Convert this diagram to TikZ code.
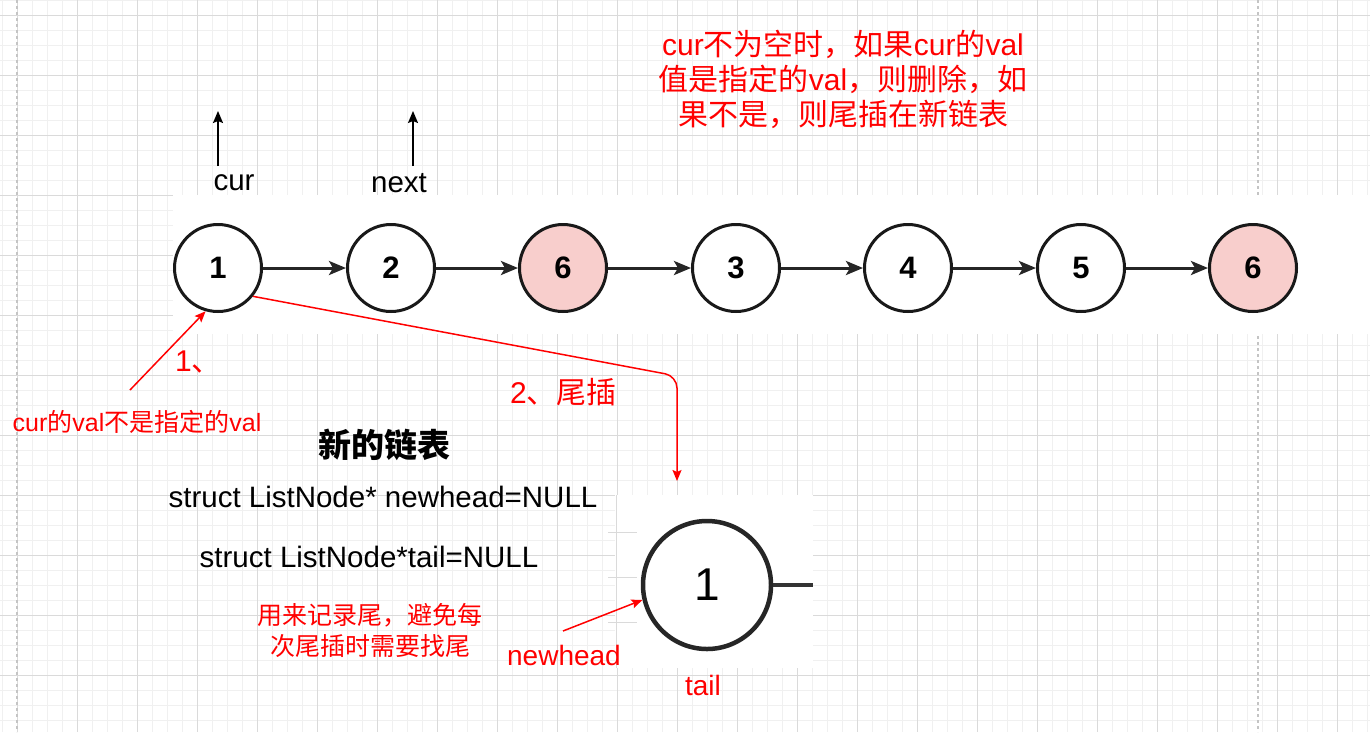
\documentclass[tikz,border=0pt]{standalone}
\usepackage{fontspec}
\setmainfont{Liberation Sans}
\newfontfamily\cjk{Noto Sans CJK SC}
\usetikzlibrary{arrows.meta,calc}
\newcommand\zh[1]{{\cjk #1}}
\definecolor{gmin}{HTML}{F0F0F0}
\definecolor{gmaj}{HTML}{DADADA}
\definecolor{gdash}{HTML}{C4C4C4}
\definecolor{pinkf}{HTML}{F8CECC}
\definecolor{redt}{HTML}{FF0000}
\begin{document}
\begin{tikzpicture}[x=1pt,y=-1pt,
  lnode/.style={circle,draw=black!90,line width=3pt,minimum size=87pt,inner sep=0pt,
    font=\fontsize{31}{31}\selectfont\bfseries,fill=white},
  hl/.style={lnode,fill=pinkf},
  link/.style={black!85,line width=3pt,-{Stealth[length=17pt,width=14pt,inset=4pt]}},
  ptr/.style={line width=1.5pt,-{Stealth[length=12pt,width=10pt,inset=2pt]}},
  redarrow/.style={draw=redt,line width=1.5pt,-{Stealth[length=11pt,width=9pt,inset=2pt]}},
  redtext/.style={text=redt,inner sep=0pt},
  blk/.style={inner sep=0pt,font=\fontsize{29.5}{35}\selectfont}
]
\useasboundingbox (0,0) rectangle (1370,732);
\fill[white] (0,0) rectangle (1370,732);
% grid
\begin{scope}
\clip (0,0) rectangle (1370,732);
\foreach \x in {2,17,...,1367} \draw[gmin,line width=1pt] (\x,0) -- (\x,732);
\foreach \y in {0,15,...,730} \draw[gmin,line width=1pt] (0,\y) -- (1370,\y);
\foreach \x in {17,77,...,1367} \draw[gmaj,line width=1pt] (\x,0) -- (\x,732);
\foreach \y in {15,75,...,730} \draw[gmaj,line width=1pt] (0,\y) -- (1370,\y);
\draw[gdash,line width=1.2pt,dash pattern=on 3pt off 3pt] (17,0) -- (17,732);
\draw[gdash,line width=1.2pt,dash pattern=on 3pt off 3pt] (1258,0) -- (1258,732);
\end{scope}
% pasted image areas
\fill[white] (173,195) rectangle (1370,334);
\fill[white] (615,495) rectangle (813,668);
\draw[gmaj,line width=1pt] (616,495) -- (616,668);
\foreach \y in {532,577,622} \draw[gmaj,line width=1pt] (608,\y) -- (637,\y);

% linked list
\node[lnode] (n1) at (218,268) {1};
\node[lnode] (n2) at (391,268) {2};
\node[hl]    (n3) at (563,268) {6};
\node[lnode] (n4) at (736,268) {3};
\node[lnode] (n5) at (908,268) {4};
\node[lnode] (n6) at (1081,268) {5};
\node[hl]    (n7) at (1253,268) {6};
\foreach \a/\b in {n1/n2,n2/n3,n3/n4,n4/n5,n5/n6,n6/n7}
  \draw[link] (\a) -- (\b);

% pointers
\node[blk] (cur) at (234,183) {cur};
\node[blk] (next) at (399,183) {next};
\coordinate (curb) at (218,166);
\coordinate (curt) at (218,111);
\coordinate (nextb) at (413,166);
\coordinate (nextt) at (413,111);
\draw[ptr] (curb) -- (curt);
\draw[ptr] (nextb) -- (nextt);

% top note
\node[redtext,align=center,font=\fontsize{30}{35}\selectfont] (topnote) at (843,79)
  {cur\zh{不为空时，如果}cur\zh{的}val\\\zh{值是指定的}val\zh{，则删除，如}\\\zh{果不是，则尾插在新链表}};

% step 1
\node[redtext,font=\fontsize{25}{25}\selectfont] (note1) at (137,422) {cur\zh{的}val\zh{不是指定的}val};
\node[redtext,anchor=west,font=\fontsize{30}{30}\selectfont] (s1) at (175,362) {1\zh{、}};
\coordinate (a1s) at (130,390);
\draw[redarrow] (a1s) -- (n1.254);

% step 2
\node[redtext,anchor=west,font=\fontsize{30}{30}\selectfont] (s2) at (510,392) {2\zh{、尾插}};
\coordinate (a2e) at (677,481);
\draw[redarrow,rounded corners=12pt] (n1.-39) -- (677,376) -- (a2e);

% new list
\node[inner sep=0pt,font=\fontsize{33}{33}\selectfont\cjk\bfseries] (title) at (384,445) {新的链表};
\node[blk] (l1) at (383,497) {struct ListNode* newhead=NULL};
\node[blk] (l2) at (369,557) {struct ListNode*tail=NULL};
\node[redtext,align=center,font=\fontsize{25}{31}\selectfont\cjk] (note2) at (370,630)
  {用来记录尾，避免每\\次尾插时需要找尾};

% tail node
\node[circle,draw=black!85,line width=4.5pt,minimum size=128pt,inner sep=0pt,fill=white,
  font=\fontsize{46}{46}\selectfont] (tailn) at (707,585) {1};
\coordinate (tailr) at (813,585);
\draw[black!80,line width=4pt] (tailn.east) -- (tailr);
\node[redtext,font=\fontsize{28}{28}\selectfont] (nh) at (564,655) {newhead};
\node[redtext,font=\fontsize{28}{28}\selectfont] (tl) at (703,685) {tail};
\coordinate (a3s) at (563,631);
\draw[redarrow] (a3s) -- (tailn.193);
\end{tikzpicture}
\end{document}
